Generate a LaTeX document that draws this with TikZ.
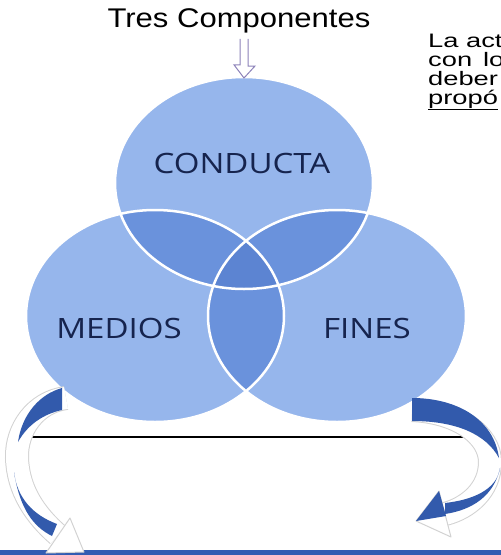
\documentclass[tikz,border=0pt]{standalone}
\usepackage{fontspec}
\setmainfont{Liberation Sans}[FakeStretch=1.15]
\newfontfamily\vennfont{Open Sans}[FakeStretch=1.18]
\newfontfamily\notafont{Liberation Sans}[FakeStretch=1.4]
\usetikzlibrary{calc}
\definecolor{vennbase}{RGB}{150,182,236}
\definecolor{vennpair}{RGB}{106,146,220}
\definecolor{venntriple}{RGB}{92,132,210}
\definecolor{vennink}{RGB}{22,36,78}
\definecolor{arrowblue}{RGB}{50,90,172}
\definecolor{barblue}{RGB}{50,92,178}
\definecolor{hollowink}{RGB}{140,130,185}
\tikzset{
  venn/.style={draw=white,line width=2.5pt},
  vennlabel/.style={font=\vennfont\fontsize{28}{30}\selectfont,text=vennink,inner sep=0pt,anchor=base},
  notaline/.style={font=\notafont\fontsize{19.5}{21}\selectfont,inner sep=0pt,anchor=base west},
  band/.style={draw=gray!35,double=white,double distance=22pt,line width=1pt},
  piece/.style={fill=arrowblue,draw=none},
  tipbox/.style={draw=gray!35,fill=white,line width=1pt,line join=round},
  hollow/.style={draw=hollowink,fill=white,line width=1pt},
}

\begin{document}
\begin{tikzpicture}[x=1pt,y=-1pt]
\useasboundingbox (0,0) rectangle (501,555);
\clip (0,0) rectangle (501,555);

% three components
\coordinate (C) at (244,183);
\coordinate (M) at (155,316);
\coordinate (F) at (337,316);
\begin{scope}[x radius=129pt,y radius=106pt]
\fill[vennbase] (C) ellipse [] (M) ellipse [] (F) ellipse [];
\begin{scope}
  \clip (C) ellipse [];
  \fill[vennpair] (M) ellipse [] (F) ellipse [];
\end{scope}
\begin{scope}
  \clip (M) ellipse [];
  \fill[vennpair] (F) ellipse [];
\end{scope}
\begin{scope}
  \clip (C) ellipse [];
  \clip (M) ellipse [];
  \fill[venntriple] (F) ellipse [];
\end{scope}
\draw[venn] (C) ellipse [] (M) ellipse [] (F) ellipse [];
\end{scope}

\node[vennlabel] (conducta) at (242,173) {CONDUCTA};
\node[vennlabel] (medios) at (119,338) {MEDIOS};
\node[vennlabel] (fines) at (367,338) {FINES};

% title and arrow
\node[font=\fontsize{27}{30}\selectfont,inner sep=0pt,anchor=base] (title) at (239,27) {Tres Componentes};
\coordinate (ctop) at (244,78);
\draw[hollow] ([xshift=-4pt,yshift=-6pt]ctop |- title.south) -- ++(0,26) -- ++(-6,0)
  -- (ctop) -- ++(11,-12) -- ++(-7,0) -- ([xshift=4pt,yshift=-6pt]ctop |- title.south);

% side note, cut at the right edge
\node[notaline] (nota1) at (428,47) {La act};
\node[notaline] (nota2) at (428,66) {con\hspace{11pt}lo};
\node[notaline] (nota3) at (428,85) {deber};
\node[notaline] (nota4) at (428,104) {\underline{propó}};

% line and bar
\coordinate (lineL) at (28,437);
\coordinate (lineR) at (468,437);
\draw[line width=2.5pt] (lineL) -- (lineR);
\fill[barblue] (0,550) rectangle (501,555);

% left curved arrow
\draw[band] (66,398) .. controls (35,402) and (16,430) .. (17,458)
  .. controls (18,490) and (35,515) .. (58,535);
\draw[tipbox] (70,518) -- (84,552) -- (46,553) -- cycle;
\fill[piece] (62,388) .. controls (40,394) and (22,414) .. (18,442)
  .. controls (28,424) and (44,414) .. (62,410) -- cycle;
\fill[piece] (14,472) .. controls (17,498) and (33,515) .. (57,524)
  -- (52,536) .. controls (34,527) and (20,510) .. cycle;

% right curved arrow
\draw[band] (412,410) .. controls (458,412) and (490,435) .. (490,462)
  .. controls (490,490) and (468,508) .. (445,514);
\draw[tipbox] (439,491) -- (416,521) -- (451,537) -- cycle;
\fill[piece] (412,398) .. controls (458,398) and (494,420) .. (499,458)
  .. controls (486,434) and (456,421) .. (412,421) -- cycle;
\fill[piece] (500,468) .. controls (497,490) and (472,500) .. (445,503)
  -- (445,514) .. controls (472,510) and (494,496) .. cycle;
\fill[piece] (439,491) -- (416,521) -- (446,516) -- cycle;
\end{tikzpicture}
\end{document}
